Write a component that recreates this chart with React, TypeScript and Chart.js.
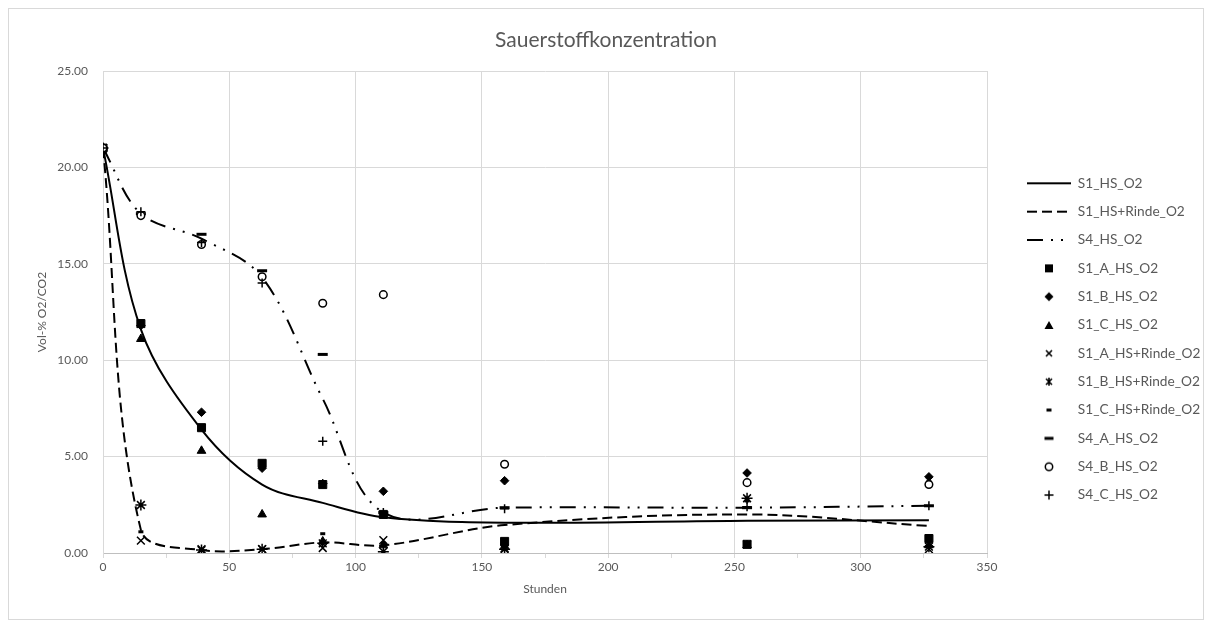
import { useEffect, useRef } from 'react';
import { Chart, registerables } from 'chart.js';

Chart.register(...registerables);
Chart.defaults.font.family = 'Lato, "Liberation Sans", sans-serif';
Chart.defaults.color = '#595959';

// Sampling times in hours
const hours = [0, 15, 39, 63, 87, 111, 159, 255, 327];

// Smoothed mean curves
const s1HsLine = [21, 11.6, 6.4, 3.55, 2.6, 1.85, 1.57, 1.67, 1.7];
const s1RindeLine = [21, 1.2, 0.15, 0.2, 0.55, 0.4, 1.45, 2.0, 1.4];
const s4HsLine = [21, 17.6, 16.3, 14.3, 8.0, 2.1, 2.35, 2.35, 2.45];

// Individual measurements (Vol-% O2)
const s1AHs = [21, 11.9, 6.5, 4.65, 3.55, 2.0, 0.6, 0.45, 0.75];
const s1BHs = [21, 11.8, 7.3, 4.4, 3.6, 3.2, 3.75, 4.15, 3.95];
const s1CHs = [21, 11.1, 5.3, 2.0, 0.6, 0.4, 0.35, 0.4, 0.4];
const s1ARinde = [21, 0.64, 0.2, 0.2, 0.26, 0.67, 0.25, 0.45, 0.2];
const s1BRinde = [21, 2.49, 0.15, 0.2, 0.5, 0.07, 0.2, 2.84, 0.33];
const s1CRinde = [21, 1.1, 0.15, 0.2, 1.0, 0.5, 3.8, 2.7, 3.7];
const s4AHs = [21, 17.6, 16.53, 14.64, 10.3, 2.1, 2.35, 2.35, 2.45];
const s4BHs = [21, 17.5, 16.0, 14.33, 12.95, 13.4, 4.6, 3.65, 3.55];
const s4CHs = [21, 17.7, 16.1, 14.0, 5.8, 2.1, 2.3, 2.4, 2.45];

const LEGEND_WIDTH = 190.64;
const LEGEND_FONT = 13.7;
const LEGEND_PAD = 14.64;

// Keeps the legend column at a fixed width so the plot area ends where it should
const legendWidthPlugin = {
  id: 'legendWidth',
  beforeLayout(chart: any) {
    const lg = chart.legend;
    if (lg && !lg.__fixedWidth) {
      const fit = lg.fit.bind(lg);
      lg.fit = () => {
        fit();
        lg.width = LEGEND_WIDTH;
      };
      lg.__fixedWidth = true;
    }
  },
};

type Painter = (c: CanvasRenderingContext2D) => void;

function symbol(paint: Painter): HTMLCanvasElement {
  const cv = document.createElement('canvas');
  cv.width = 44;
  cv.height = 12;
  const c = cv.getContext('2d') as CanvasRenderingContext2D;
  c.fillStyle = '#000';
  c.strokeStyle = '#000';
  paint(c);
  return cv;
}

const lineSymbol = (dash: number[]) =>
  symbol((c) => {
    c.lineWidth = 2;
    c.setLineDash(dash);
    c.beginPath();
    c.moveTo(0, 6);
    c.lineTo(44, 6);
    c.stroke();
  });

function legendSymbols(): HTMLCanvasElement[] {
  return [
    lineSymbol([]),
    lineSymbol([10, 5]),
    lineSymbol([16, 8, 2, 8, 2, 8]),
    symbol((c) => c.fillRect(18, 2, 8, 8)),
    symbol((c) => {
      c.beginPath();
      c.moveTo(22, 1.5);
      c.lineTo(26.5, 6);
      c.lineTo(22, 10.5);
      c.lineTo(17.5, 6);
      c.closePath();
      c.fill();
    }),
    symbol((c) => {
      c.beginPath();
      c.moveTo(22, 2);
      c.lineTo(26.5, 10);
      c.lineTo(17.5, 10);
      c.closePath();
      c.fill();
    }),
    symbol((c) => {
      c.lineWidth = 1.6;
      c.beginPath();
      c.moveTo(19, 3);
      c.lineTo(25, 9);
      c.moveTo(25, 3);
      c.lineTo(19, 9);
      c.stroke();
    }),
    symbol((c) => {
      c.lineWidth = 1.6;
      c.beginPath();
      c.moveTo(19, 3);
      c.lineTo(25, 9);
      c.moveTo(25, 3);
      c.lineTo(19, 9);
      c.moveTo(22, 2);
      c.lineTo(22, 10);
      c.stroke();
    }),
    symbol((c) => c.fillRect(19.5, 4.5, 5, 3)),
    symbol((c) => c.fillRect(17.5, 4.5, 9, 3)),
    symbol((c) => {
      c.lineWidth = 1.5;
      c.beginPath();
      c.arc(22, 6, 3.7, 0, Math.PI * 2);
      c.stroke();
    }),
    symbol((c) => {
      c.lineWidth = 1.5;
      c.beginPath();
      c.moveTo(17.5, 6);
      c.lineTo(26.5, 6);
      c.moveTo(22, 1.5);
      c.lineTo(22, 10.5);
      c.stroke();
    }),
  ];
}

export default function App() {
  const canvasRef = useRef<HTMLCanvasElement | null>(null);

  useEffect(() => {
    const canvas = canvasRef.current;
    if (!canvas) return;

    const pts = (vals: number[]) => hours.map((h, i) => ({ x: h, y: vals[i] }));

    const curve = (label: string, vals: number[], dash: number[]) => ({
      label,
      data: pts(vals),
      showLine: true,
      borderColor: '#000',
      backgroundColor: '#000',
      borderWidth: 2,
      borderDash: dash,
      pointRadius: 0,
      pointHoverRadius: 0,
      tension: 0.35,
    });

    const marker = (label: string, vals: number[], pointStyle: string, radius: number, extra: object = {}) => ({
      label,
      data: pts(vals),
      showLine: false,
      pointStyle,
      pointRadius: radius,
      pointHoverRadius: radius,
      pointBackgroundColor: '#000',
      pointBorderColor: '#000',
      pointBorderWidth: 1,
      backgroundColor: '#000',
      borderColor: '#000',
      ...extra,
    });

    const datasets = [
      curve('S1_HS_O2', s1HsLine, []),
      curve('S1_HS+Rinde_O2', s1RindeLine, [10, 5]),
      curve('S4_HS_O2', s4HsLine, [16, 8, 2, 8, 2, 8]),
      marker('S1_A_HS_O2', s1AHs, 'rect', 5.7),
      marker('S1_B_HS_O2', s1BHs, 'rectRot', 4.3),
      marker('S1_C_HS_O2', s1CHs, 'triangle', 5),
      marker('S1_A_HS+Rinde_O2', s1ARinde, 'crossRot', 5.5, { pointBorderWidth: 1.5 }),
      marker('S1_B_HS+Rinde_O2', s1BRinde, 'star', 5.5, { pointBorderWidth: 1.5 }),
      marker('S1_C_HS+Rinde_O2', s1CRinde, 'line', 2.5, { pointBorderWidth: 3 }),
      marker('S4_A_HS_O2', s4AHs, 'line', 5, { pointBorderWidth: 3 }),
      marker('S4_B_HS_O2', s4BHs, 'circle', 3.8, { pointBorderWidth: 1.5, pointBackgroundColor: '#fff' }),
      marker('S4_C_HS_O2', s4CHs, 'cross', 4.5, { pointBorderWidth: 1.5 }),
    ].map((d, i) => ({ ...d, order: -i }));

    const symbols = legendSymbols();

    const chart = new Chart(canvas, {
      type: 'scatter',
      data: { datasets: datasets as any },
      options: {
        animation: false,
        responsive: false,
        events: [],
        layout: { padding: 0 },
        plugins: {
          title: {
            display: true,
            text: 'Sauerstoffkonzentration',
            color: '#595959',
            font: { size: 21, weight: 'normal' },
            padding: { top: 18.4, bottom: 18.4 },
          },
          legend: {
            position: 'right',
            align: 'center',
            title: { display: true, text: ' ', padding: { top: 49.14, bottom: 0 }, font: { size: 1 } },
            labels: {
              usePointStyle: true,
              pointStyleWidth: 44,
              boxHeight: 12,
              padding: LEGEND_PAD,
              color: '#595959',
              font: { size: LEGEND_FONT },
              generateLabels: (ch: any) =>
                ch.data.datasets.map((ds: any, i: number) => ({
                  text: ds.label,
                  pointStyle: symbols[i],
                  datasetIndex: i,
                  hidden: false,
                  fontColor: '#595959',
                  lineWidth: 0,
                  strokeStyle: 'rgba(0,0,0,0)',
                  fillStyle: 'rgba(0,0,0,0)',
                })),
            },
          },
          tooltip: { enabled: false },
        },
        scales: {
          x: {
            type: 'linear',
            min: 0,
            max: 350,
            ticks: {
              stepSize: 25,
              autoSkip: false,
              maxRotation: 0,
              padding: 2,
              color: '#595959',
              font: { size: 12 },
              callback: (v: any) => (Number(v) % 50 === 0 ? String(v) : ''),
            },
            grid: {
              color: (c: any) => (c.tick && c.tick.value % 50 === 0 ? '#d9d9d9' : 'rgba(0,0,0,0)'),
              tickColor: '#d9d9d9',
              tickLength: 5,
              lineWidth: 1,
            },
            border: { color: '#bfbfbf' },
            title: {
              display: true,
              text: 'Stunden',
              color: '#595959',
              font: { size: 12 },
              padding: { top: 0, bottom: 22.8 },
            },
            afterFit: (s: any) => {
              s.height = 66;
            },
          },
          y: {
            type: 'linear',
            min: 0,
            max: 25,
            ticks: {
              stepSize: 5,
              padding: 15,
              color: '#595959',
              font: { size: 12 },
              callback: (v: any) => Number(v).toFixed(2),
            },
            grid: { color: '#d9d9d9', drawTicks: false },
            border: { color: '#d9d9d9' },
            title: {
              display: true,
              text: 'Vol-% O2/CO2',
              color: '#595959',
              font: { size: 12 },
              padding: { top: 25.8, bottom: 0 },
            },
            afterFit: (s: any) => {
              s.width = 94;
            },
          },
          gap: {
            type: 'linear',
            position: 'right',
            display: true,
            grid: { display: false },
            border: { display: false },
            ticks: { display: false },
            afterFit: (s: any) => {
              s.width = 1194 - LEGEND_WIDTH - 978;
            },
          },
        },
      } as any,
      plugins: [legendWidthPlugin],
    });

    return () => chart.destroy();
  }, []);

  return (
    <div
      style={{
        width: 1196,
        height: 612,
        border: '1px solid #d9d9d9',
        boxSizing: 'border-box',
        background: '#fff',
      }}
    >
      <canvas ref={canvasRef} width={1194} height={610} style={{ display: 'block' }} />
    </div>
  );
}
